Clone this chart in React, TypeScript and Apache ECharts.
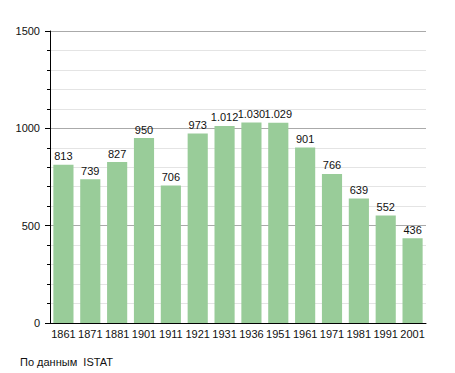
import React, { useEffect, useRef } from "react";
import * as echarts from "echarts";

const categories = ["1861", "1871", "1881", "1901", "1911", "1921", "1931", "1936", "1951", "1961", "1971", "1981", "1991", "2001"];
const population = [813, 739, 827, 950, 706, 973, 1012, 1030, 1029, 901, 766, 639, 552, 436];
const footnote = "По данным  ISTAT";

const fmt = (v: number) => {
  const s = String(v);
  return s.length > 3 ? s.slice(0, s.length - 3) + "." + s.slice(s.length - 3) : s;
};

export default function App() {
  const ref = useRef<HTMLDivElement>(null);
  useEffect(() => {
    const chart = echarts.init(ref.current!, null, { renderer: "svg" });
    const font = "Liberation Sans, Arial, sans-serif";
    chart.setOption({
      animation: false,
      grid: { left: 50, right: 29, top: 31, bottom: 50 },
      xAxis: {
        type: "category",
        data: categories,
        axisLine: { lineStyle: { color: "#000", width: 1 } },
        axisTick: { show: false },
        axisLabel: { color: "#111", fontSize: 11, fontFamily: font, margin: 5, interval: 0 },
      },
      yAxis: {
        type: "value",
        min: 0,
        max: 1500,
        interval: 500,
        axisLine: { show: true, lineStyle: { color: "#000", width: 1 } },
        axisTick: { show: true, length: 5, lineStyle: { color: "#000" } },
        minorTick: { show: true, splitNumber: 5, length: 3, lineStyle: { color: "#000" } },
        splitLine: { show: true, lineStyle: { color: "#aaaaaa", width: 1 } },
        minorSplitLine: { show: true, lineStyle: { color: "#e4e4e4", width: 1 } },
        axisLabel: { color: "#111", fontSize: 11, fontFamily: font, margin: 10, formatter: (v: number) => String(v) },
      },
      series: [
        {
          type: "bar",
          data: population,
          barCategoryGap: "25%",
          itemStyle: { color: "#99cc99" },
          label: {
            show: true,
            position: "top",
            distance: 3,
            color: "#111",
            fontSize: 11,
            fontFamily: font,
            formatter: (p: any) => fmt(p.value),
          },
        },
      ],
      graphic: [
        {
          type: "text",
          left: 20,
          top: 356,
          style: { text: footnote, fill: "#111", fontSize: 11, fontFamily: font },
        },
      ],
    });
    return () => chart.dispose();
  }, []);
  return <div ref={ref} style={{ width: 455, height: 373, position: "absolute", left: 0, top: 0 }} />;
}
